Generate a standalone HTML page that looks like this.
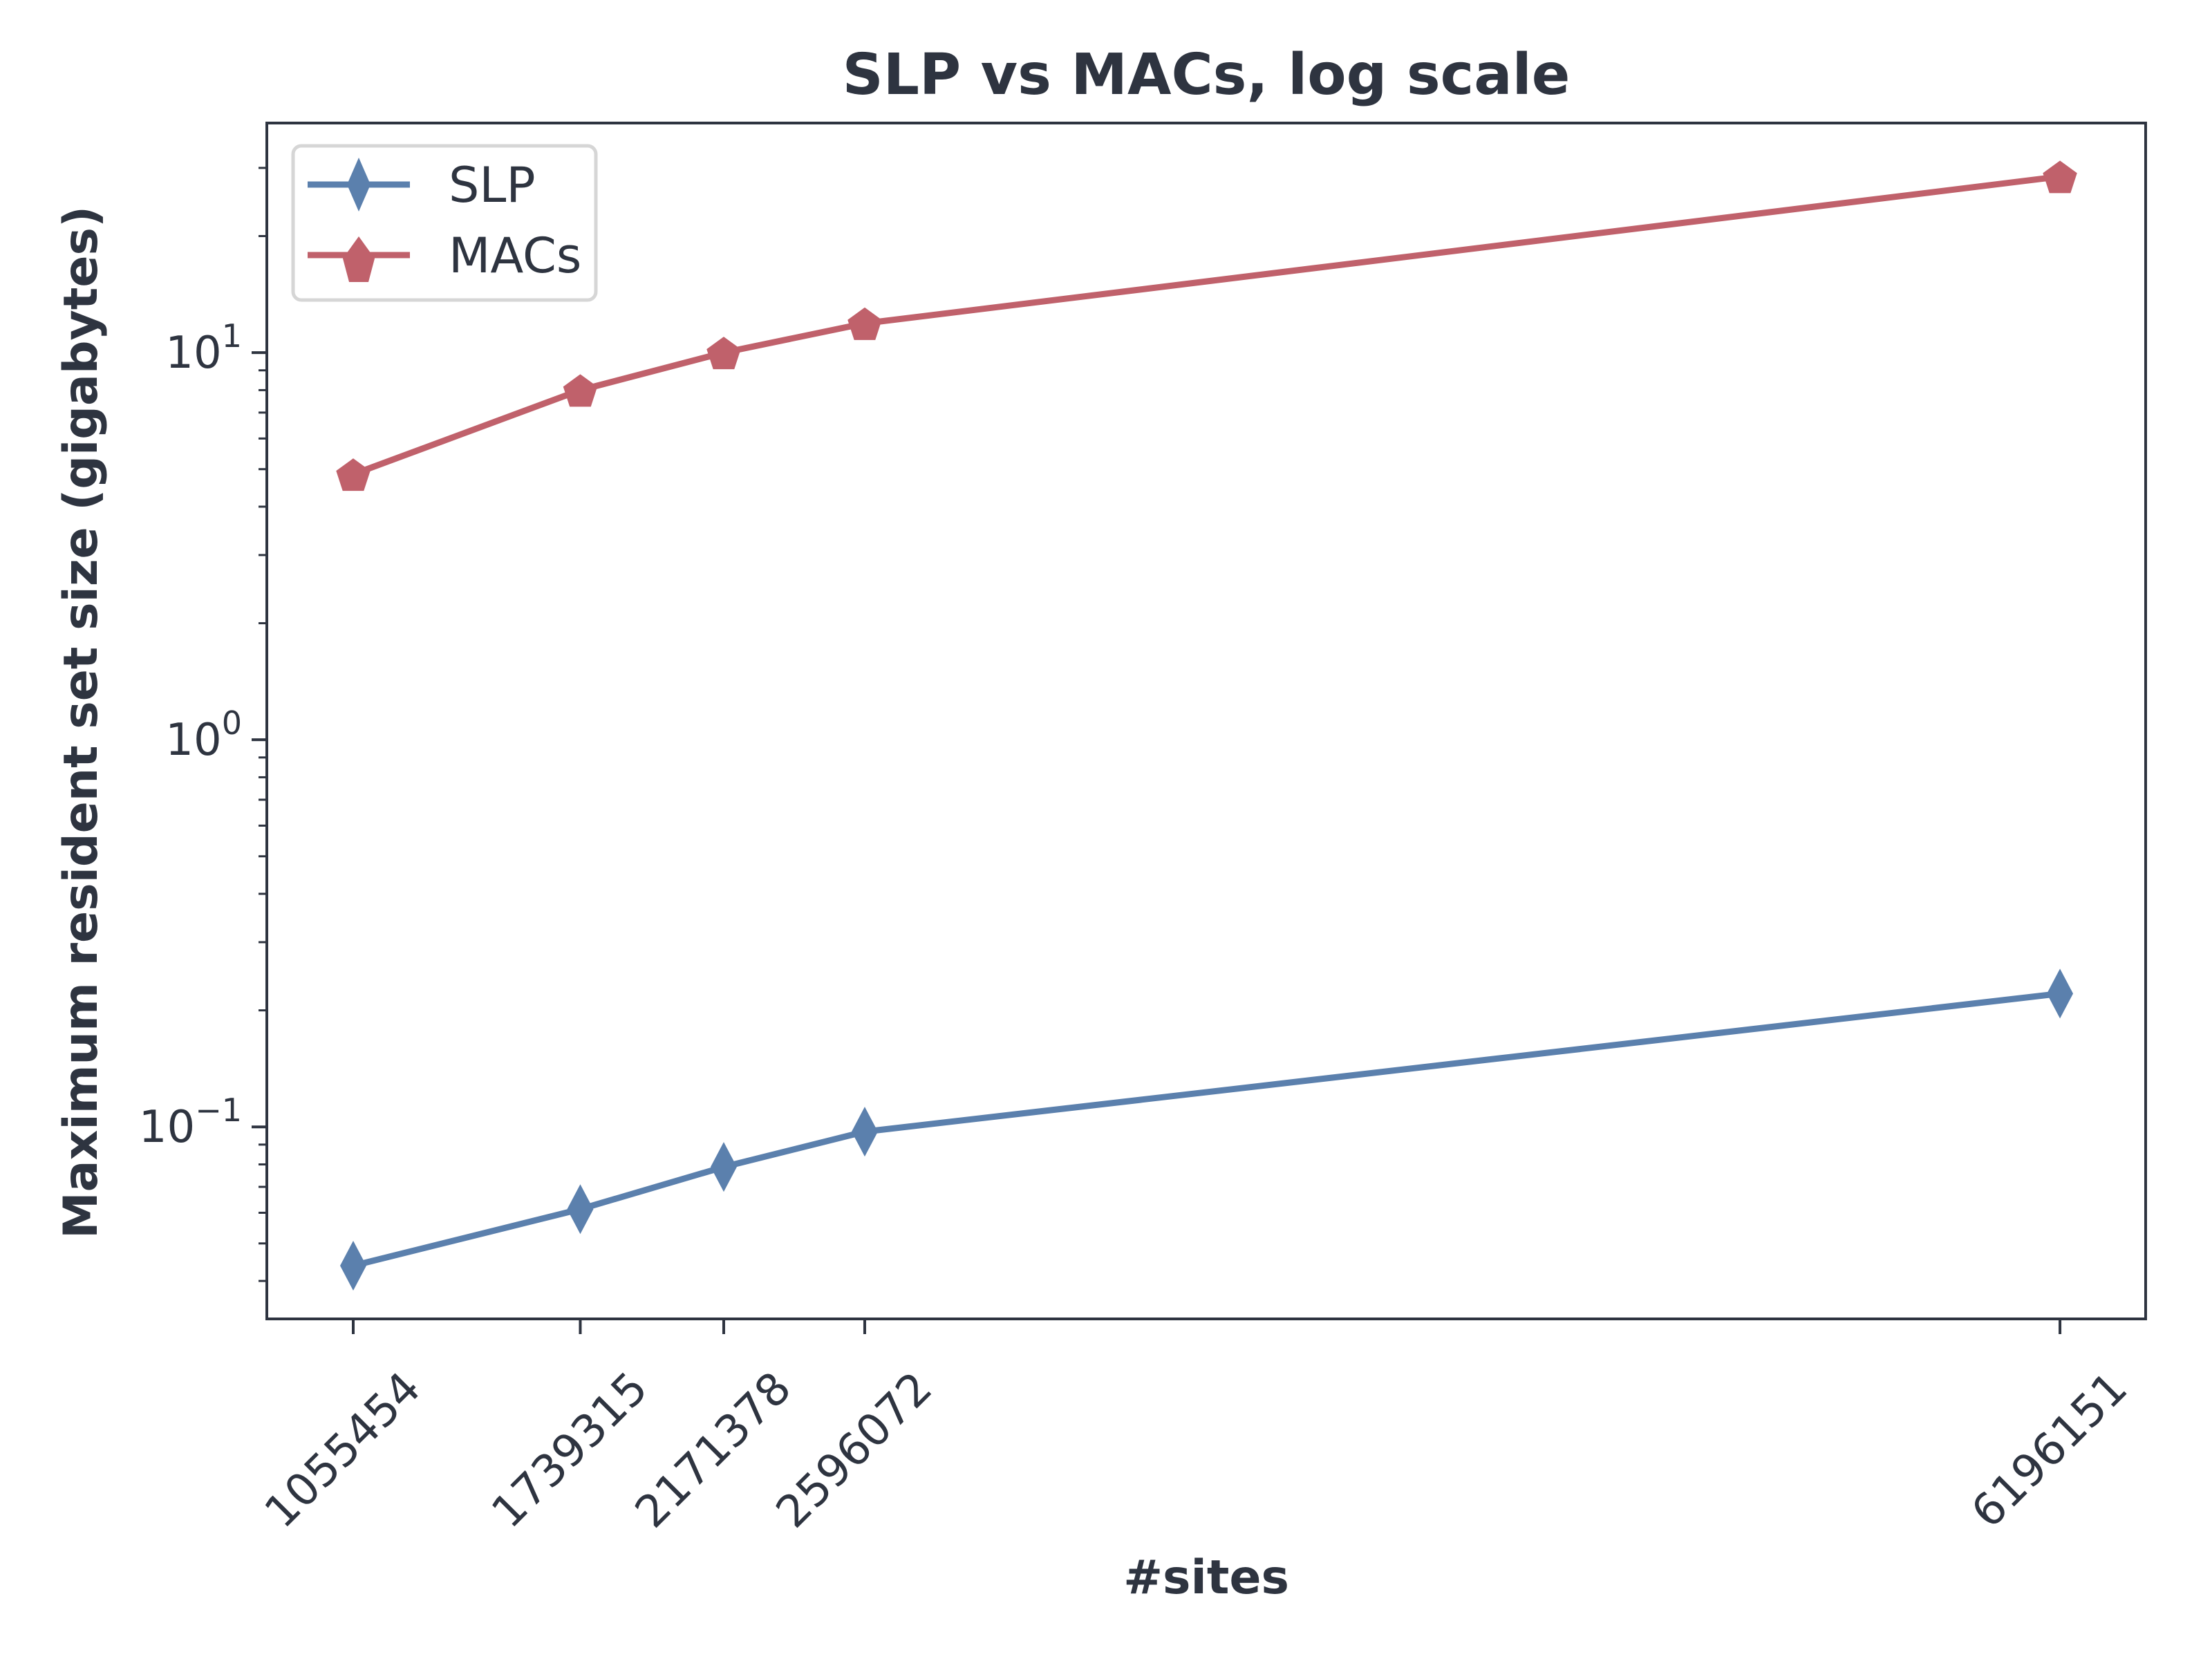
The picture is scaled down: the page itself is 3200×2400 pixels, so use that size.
<!DOCTYPE html>
<html><head><meta charset="utf-8"><style>
html,body{margin:0;padding:0;background:#fff;}
svg{display:block;font-family:"DejaVu Sans","Liberation Sans",sans-serif;}
</style></head><body>
<svg id="chart" width="3200" height="2400" viewBox="0 0 3200 2400" xmlns="http://www.w3.org/2000/svg">
<rect width="3200" height="2400" fill="#fff"/>
<text x="1745" y="136" text-anchor="middle" font-size="82" font-weight="bold" fill="#2e3440">SLP vs MACs, log scale</text>
<text x="1745" y="2305" text-anchor="middle" font-size="68" font-weight="bold" fill="#2e3440">#sites</text>
<text transform="translate(140,1045) rotate(-90)" text-anchor="middle" font-size="68" font-weight="bold" fill="#2e3440">Maximum resident set size (gigabytes)</text>
<g id="axes"></g>
<g id="marks"></g>
<g>
<rect x="424" y="211" width="438" height="223" rx="12" fill="#fff" stroke="#d6d6d6" stroke-width="5"/>
<line x1="445" y1="267" x2="593" y2="267" stroke="#5b80ad" stroke-width="9"/>
<polygon points="519,228 536,267 519,306 502,267" fill="#5b80ad"/>
<text x="649" y="292" font-size="70" fill="#2e3440">SLP</text>
<line x1="445" y1="369" x2="593" y2="369" stroke="#c0616b" stroke-width="9"/>
<polygon points="519,342 542,374 533,408 505,408 496,374" fill="#c0616b"/>
<text x="649" y="394" font-size="70" fill="#2e3440">MACs</text>
</g>
</svg>
<script>
const categories = [1055454, 1739315, 2171378, 2596072, 6196151];
const slpValues = [0.0438, 0.0613, 0.0788, 0.0972, 0.221];
const macsValues = [4.85, 8.0, 10.0, 11.9, 28.5];
const yTickExps = [-1, 0, 1];

const L=386,R=3104,T=178,B=1908;
const xMin=795200,xMax=6454163,lyMin=-1.496,lyMax=1.593;
const xs=v=>L+(v-xMin)/(xMax-xMin)*(R-L);
const ys=v=>B-(Math.log10(v)-lyMin)/(lyMax-lyMin)*(B-T);
const NS='http://www.w3.org/2000/svg';
const C='#2e3440';
function mk(parent,tag,attrs){const e=document.createElementNS(NS,tag);for(const k in attrs)e.setAttribute(k,attrs[k]);parent.appendChild(e);return e;}
const ax=document.getElementById('axes');
const frame=mk(ax,'rect',{x:L,y:T,width:R-L,height:B-T,fill:'none',stroke:C,'stroke-width':4});


categories.forEach(c=>{
  const x=xs(c);
  const t=mk(ax,'line',{x1:x,y1:B,x2:x,y2:B+22,stroke:C,'stroke-width':4});
  
  
  const lb=mk(ax,'text',{transform:`translate(${x},${B+205}) rotate(-45)`,'text-anchor':'middle','font-size':64,fill:C});
  
  
  lb.textContent=String(c);
});
for(let e=-2;e<=1;e++){for(let m=1;m<=9;m++){
  const v=m*Math.pow(10,e);const y=ys(v);
  if(y<T-1||y>B+1)continue;
  const major=m===1;
  const t=mk(ax,'line',{x1:L-(major?22:12),y1:y,x2:L,y2:y,stroke:C,'stroke-width':major?4:3});
  
  
}}
yTickExps.forEach(e=>{
  const y=ys(Math.pow(10,e));
  const lb=mk(ax,'text',{x:L-36,y:y+22,'text-anchor':'end','font-size':64,fill:C});
  
  
  const base=mk(lb,'tspan',{});base.textContent='10';
  const sup=mk(lb,'tspan',{dy:-30,'font-size':46});sup.textContent=e<0?'\u2212'+Math.abs(e):String(e);
});
const mg=document.getElementById('marks');
function series(vals,color,name,marker){
  const pts=categories.map((c,i)=>[xs(c),ys(vals[i])]);
  const pl=mk(mg,'polyline',{points:pts.map(p=>p.join(',')).join(' '),fill:'none',stroke:color,'stroke-width':9,'stroke-linejoin':'round'});
  
  
  pts.forEach(([x,y])=>{
    let p;
    if(marker==='d'){p=`${x},${y-36} ${x+19},${y} ${x},${y+36} ${x-19},${y}`;}
    else{const r=26;p=[0,1,2,3,4].map(k=>{const a=-Math.PI/2+k*2*Math.PI/5;return (x+r*Math.cos(a))+','+(y+r*Math.sin(a)+3);}).join(' ');}
    const m=mk(mg,'polygon',{points:p,fill:color});
    
    
  });
}
series(slpValues,'#5b80ad','slp','d');
series(macsValues,'#c0616b','macs','p');
</script>
</body></html>
